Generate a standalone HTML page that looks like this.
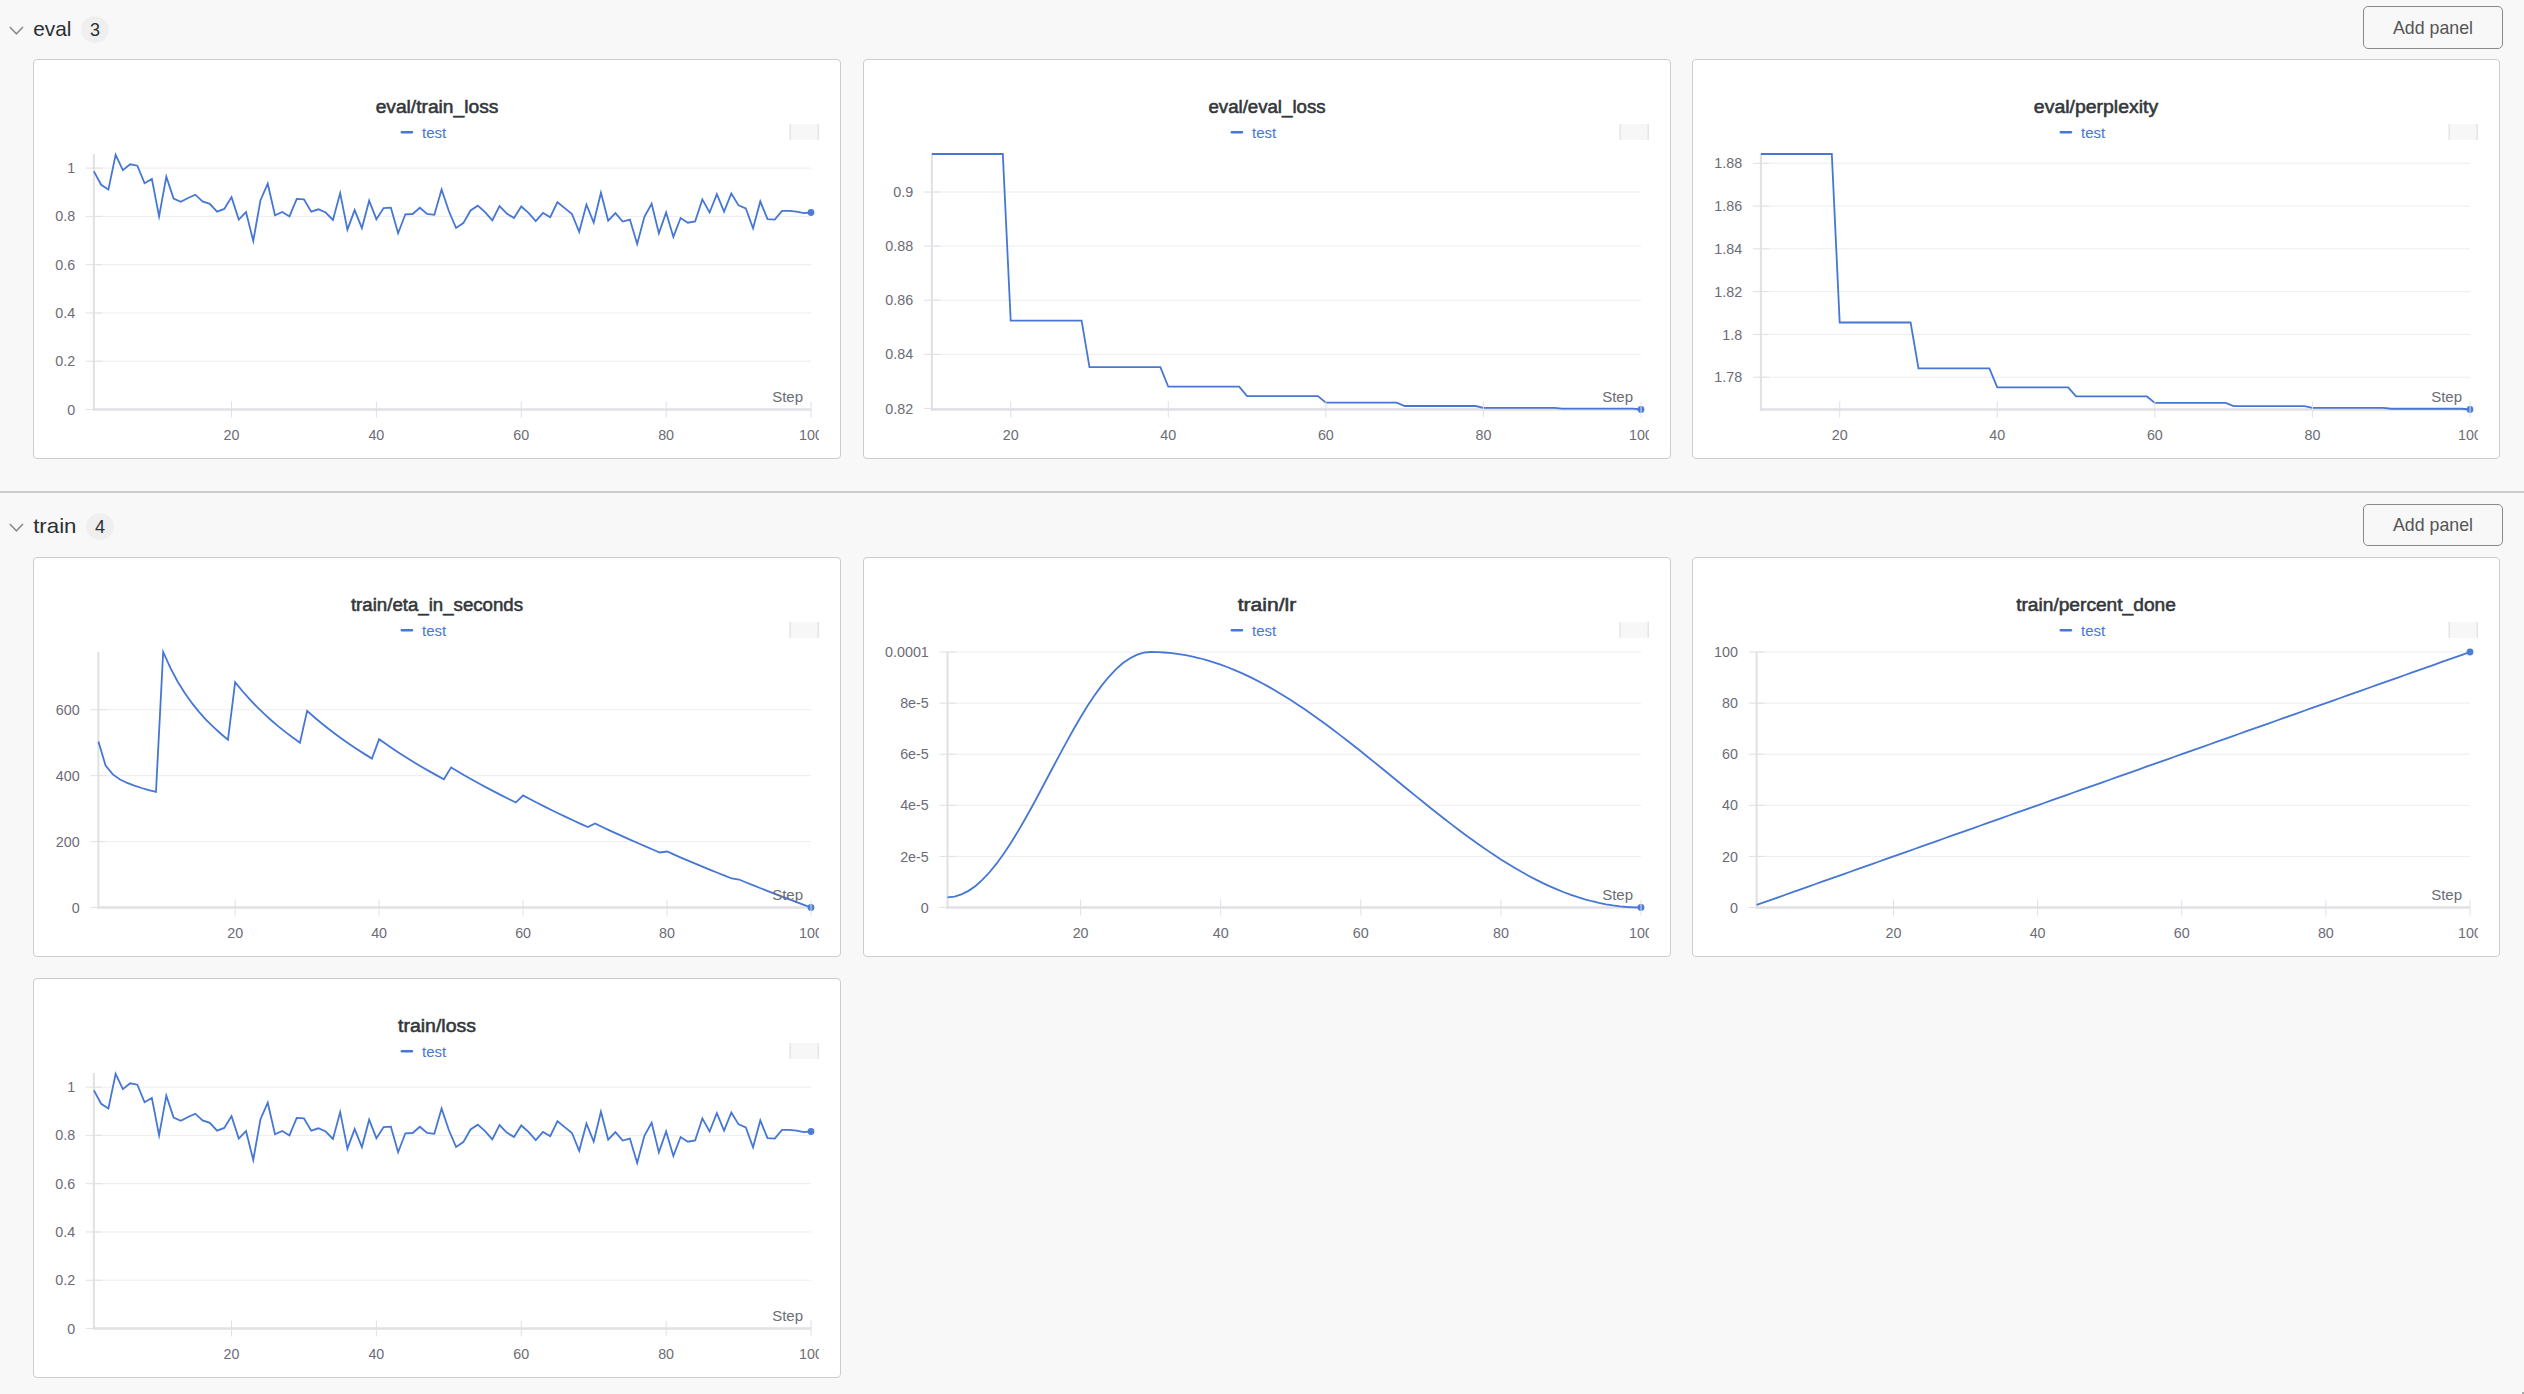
<!DOCTYPE html>
<html><head><meta charset="utf-8"><title>W&amp;B panels</title>
<style>
html,body{margin:0;padding:0}
body{width:2524px;height:1394px;background:#f8f8f8;position:relative;overflow:hidden;font-family:'Liberation Sans', Arial, sans-serif}
.panel{position:absolute;width:808px;height:400px;box-sizing:border-box;border:1px solid #cdcdcd;border-radius:4px;background:#fff}
.panel .clip{position:absolute;left:-1px;top:-1px;width:786px;height:400px;overflow:hidden}
.sname{position:absolute;left:33.5px;height:30px;line-height:30px;font-size:20.5px;color:#2b2f33;letter-spacing:-0.5px;margin-top:15.5px}
.badge{position:absolute;width:28px;height:27px;border-radius:50%;background:#efefef;color:#2b2f33;font-size:17px;line-height:27px;text-align:center}
.btn{position:absolute;left:2363px;width:140px;box-sizing:border-box;border:1px solid #8a8a8a;border-radius:5px}
.sep{position:absolute;left:0;top:491px;width:2524px;height:2px;background:#cbcbcb}
</style></head><body>
<svg style="position:absolute;left:0;top:0px" width="40" height="60"><polyline points="9.8,27 16.4,33.8 23,27" fill="none" stroke="#8c8c8c" stroke-width="1.6"/></svg>
<svg style="position:absolute;left:0;top:0px" width="120" height="50"><text x="33.2" y="35.8" font-family="'Liberation Sans', Arial, sans-serif" font-size="21" fill="#2b2f33" textLength="38.3" lengthAdjust="spacingAndGlyphs">eval</text></svg>
<svg style="position:absolute;left:80px;top:0px" width="30" height="50"><ellipse cx="15" cy="29.6" rx="13.9" ry="13.3" fill="#efefef"/><text x="15" y="36.3" text-anchor="middle" font-family="'Liberation Sans', Arial, sans-serif" font-size="18" fill="#2b2f33">3</text></svg>
<div class="btn" style="top:6px;height:42.5px"></div>
<svg style="position:absolute;left:2363px;top:6px" width="140" height="42.5"><text x="70" y="27.9" text-anchor="middle" font-family="'Liberation Sans', Arial, sans-serif" font-size="19" fill="#555" textLength="80" lengthAdjust="spacingAndGlyphs">Add panel</text></svg>
<svg style="position:absolute;left:0;top:497px" width="40" height="60"><polyline points="9.8,27 16.4,33.8 23,27" fill="none" stroke="#8c8c8c" stroke-width="1.6"/></svg>
<svg style="position:absolute;left:0;top:497px" width="120" height="50"><text x="33.2" y="35.8" font-family="'Liberation Sans', Arial, sans-serif" font-size="21" fill="#2b2f33" textLength="43.3" lengthAdjust="spacingAndGlyphs">train</text></svg>
<svg style="position:absolute;left:85px;top:497px" width="30" height="50"><ellipse cx="15" cy="29.6" rx="13.9" ry="13.3" fill="#efefef"/><text x="15" y="36.3" text-anchor="middle" font-family="'Liberation Sans', Arial, sans-serif" font-size="18" fill="#2b2f33">4</text></svg>
<div class="btn" style="top:504px;height:41.5px"></div>
<svg style="position:absolute;left:2363px;top:504px" width="140" height="41.5"><text x="70" y="26.899999999999977" text-anchor="middle" font-family="'Liberation Sans', Arial, sans-serif" font-size="19" fill="#555" textLength="80" lengthAdjust="spacingAndGlyphs">Add panel</text></svg>
<div class="sep"></div>
<div class="panel" style="left:33px;top:59px"><div class="clip"><svg width="808" height="400" viewBox="0 0 808 400" style="position:absolute;left:0;top:0">
<text x="404" y="53.8" text-anchor="middle" font-family="'Liberation Sans', Arial, sans-serif" font-size="18" fill="#33373b" stroke="#33373b" stroke-width="0.55" textLength="122.7" lengthAdjust="spacingAndGlyphs">eval/train_loss</text>
<rect x="367.6" y="71.9" width="12.6" height="2.5" rx="1.2" fill="#4677d4"/>
<text x="389" y="78.9" font-family="'Liberation Sans', Arial, sans-serif" font-size="15" fill="#4677d4">test</text>
<rect x="756.5" y="65" width="29.5" height="16" fill="#f7f7f7"/>
<rect x="756.5" y="65" width="1.5" height="16" fill="#e6e6e6"/>
<rect x="784.5" y="65" width="1.5" height="16" fill="#e6e6e6"/>
<g>
<line x1="60.90" y1="350.50" x2="778.00" y2="350.50" stroke="#ededf0" stroke-width="1"/>
<line x1="52.90" y1="350.50" x2="68.90" y2="350.50" stroke="#e0e0e5" stroke-width="1"/>
<text x="42.20" y="355.60" text-anchor="end" font-family="'Liberation Sans', Arial, sans-serif" font-size="14.3" fill="#6b6c75">0</text>
<line x1="60.90" y1="302.22" x2="778.00" y2="302.22" stroke="#ededf0" stroke-width="1"/>
<line x1="52.90" y1="302.22" x2="68.90" y2="302.22" stroke="#e0e0e5" stroke-width="1"/>
<text x="42.20" y="307.32" text-anchor="end" font-family="'Liberation Sans', Arial, sans-serif" font-size="14.3" fill="#6b6c75">0.2</text>
<line x1="60.90" y1="253.94" x2="778.00" y2="253.94" stroke="#ededf0" stroke-width="1"/>
<line x1="52.90" y1="253.94" x2="68.90" y2="253.94" stroke="#e0e0e5" stroke-width="1"/>
<text x="42.20" y="259.04" text-anchor="end" font-family="'Liberation Sans', Arial, sans-serif" font-size="14.3" fill="#6b6c75">0.4</text>
<line x1="60.90" y1="205.66" x2="778.00" y2="205.66" stroke="#ededf0" stroke-width="1"/>
<line x1="52.90" y1="205.66" x2="68.90" y2="205.66" stroke="#e0e0e5" stroke-width="1"/>
<text x="42.20" y="210.76" text-anchor="end" font-family="'Liberation Sans', Arial, sans-serif" font-size="14.3" fill="#6b6c75">0.6</text>
<line x1="60.90" y1="157.38" x2="778.00" y2="157.38" stroke="#ededf0" stroke-width="1"/>
<line x1="52.90" y1="157.38" x2="68.90" y2="157.38" stroke="#e0e0e5" stroke-width="1"/>
<text x="42.20" y="162.48" text-anchor="end" font-family="'Liberation Sans', Arial, sans-serif" font-size="14.3" fill="#6b6c75">0.8</text>
<line x1="60.90" y1="109.10" x2="778.00" y2="109.10" stroke="#ededf0" stroke-width="1"/>
<line x1="52.90" y1="109.10" x2="68.90" y2="109.10" stroke="#e0e0e5" stroke-width="1"/>
<text x="42.20" y="114.20" text-anchor="end" font-family="'Liberation Sans', Arial, sans-serif" font-size="14.3" fill="#6b6c75">1</text>
<line x1="60.90" y1="95.00" x2="60.90" y2="351.70" stroke="#e0e0e5" stroke-width="2"/>
<line x1="59.90" y1="350.50" x2="778.00" y2="350.50" stroke="#e0e0e5" stroke-width="2.4"/>
<polyline points="60.90,112.40 68.14,125.80 75.39,130.60 82.63,95.90 89.87,111.20 97.12,105.30 104.36,106.70 111.60,124.30 118.85,119.90 126.09,157.40 133.33,117.60 140.58,139.60 147.82,142.80 155.06,139.00 162.31,135.70 169.55,142.40 176.79,144.80 184.04,152.70 191.28,149.90 198.53,138.10 205.77,160.60 213.01,153.10 220.26,181.90 227.50,141.20 234.74,124.70 241.99,156.20 249.23,152.90 256.47,157.40 263.72,139.90 270.96,140.30 278.20,152.70 285.45,150.30 292.69,153.50 299.93,161.00 307.18,134.10 314.42,170.60 321.66,151.10 328.91,169.10 336.15,141.70 343.39,160.20 350.64,149.10 357.88,148.70 365.12,174.20 372.37,155.30 379.61,155.00 386.85,148.70 394.10,155.00 401.34,155.80 408.58,130.50 415.83,152.00 423.07,169.00 430.32,164.10 437.56,151.50 444.80,146.70 452.05,153.10 459.29,161.30 466.53,147.10 473.78,154.60 481.02,159.00 488.26,147.50 495.51,153.90 502.75,162.10 509.99,153.90 517.24,158.20 524.48,143.20 531.72,149.10 538.97,155.00 546.21,172.80 553.45,145.60 560.70,163.50 567.94,133.70 575.18,161.70 582.43,154.20 589.67,162.50 596.91,160.60 604.16,185.00 611.40,157.80 618.64,144.80 625.89,174.40 633.13,153.50 640.37,177.90 647.62,159.00 654.86,163.70 662.11,162.50 669.35,140.40 676.59,153.50 683.84,135.10 691.08,152.70 698.32,134.50 705.57,146.40 712.81,149.50 720.05,169.20 727.30,142.40 734.54,160.20 741.78,160.60 749.03,151.90 756.27,151.90 763.51,152.70 770.76,154.20 778.00,153.50" fill="none" stroke="#4677d4" stroke-width="1.8" stroke-linejoin="miter" stroke-miterlimit="10"/>
<circle cx="778.00" cy="153.50" r="3.4" fill="#4677d4" fill-opacity="0.95"/>
<line x1="198.53" y1="342.50" x2="198.53" y2="358.50" stroke="#e0e0e5" stroke-width="1"/>
<text x="198.53" y="381.2" text-anchor="middle" font-family="'Liberation Sans', Arial, sans-serif" font-size="14.3" fill="#6b6c75">20</text>
<line x1="343.39" y1="342.50" x2="343.39" y2="358.50" stroke="#e0e0e5" stroke-width="1"/>
<text x="343.39" y="381.2" text-anchor="middle" font-family="'Liberation Sans', Arial, sans-serif" font-size="14.3" fill="#6b6c75">40</text>
<line x1="488.26" y1="342.50" x2="488.26" y2="358.50" stroke="#e0e0e5" stroke-width="1"/>
<text x="488.26" y="381.2" text-anchor="middle" font-family="'Liberation Sans', Arial, sans-serif" font-size="14.3" fill="#6b6c75">60</text>
<line x1="633.13" y1="342.50" x2="633.13" y2="358.50" stroke="#e0e0e5" stroke-width="1"/>
<text x="633.13" y="381.2" text-anchor="middle" font-family="'Liberation Sans', Arial, sans-serif" font-size="14.3" fill="#6b6c75">80</text>
<line x1="778.00" y1="342.50" x2="778.00" y2="358.50" stroke="#e0e0e5" stroke-width="1"/>
<text x="778.00" y="381.2" text-anchor="middle" font-family="'Liberation Sans', Arial, sans-serif" font-size="14.3" fill="#6b6c75">100</text>
<text x="770" y="343" text-anchor="end" font-family="'Liberation Sans', Arial, sans-serif" font-size="15" fill="#6b6c75">Step</text>
</g>
</svg></div></div><div class="panel" style="left:863px;top:59px"><div class="clip"><svg width="808" height="400" viewBox="0 0 808 400" style="position:absolute;left:0;top:0">
<text x="404" y="53.8" text-anchor="middle" font-family="'Liberation Sans', Arial, sans-serif" font-size="18" fill="#33373b" stroke="#33373b" stroke-width="0.55" textLength="117.1" lengthAdjust="spacingAndGlyphs">eval/eval_loss</text>
<rect x="367.6" y="71.9" width="12.6" height="2.5" rx="1.2" fill="#4677d4"/>
<text x="389" y="78.9" font-family="'Liberation Sans', Arial, sans-serif" font-size="15" fill="#4677d4">test</text>
<rect x="756.5" y="65" width="29.5" height="16" fill="#f7f7f7"/>
<rect x="756.5" y="65" width="1.5" height="16" fill="#e6e6e6"/>
<rect x="784.5" y="65" width="1.5" height="16" fill="#e6e6e6"/>
<g>
<line x1="68.90" y1="349.42" x2="778.00" y2="349.42" stroke="#ededf0" stroke-width="1"/>
<line x1="60.90" y1="349.42" x2="76.90" y2="349.42" stroke="#e0e0e5" stroke-width="1"/>
<text x="50.20" y="354.52" text-anchor="end" font-family="'Liberation Sans', Arial, sans-serif" font-size="14.3" fill="#6b6c75">0.82</text>
<line x1="68.90" y1="295.32" x2="778.00" y2="295.32" stroke="#ededf0" stroke-width="1"/>
<line x1="60.90" y1="295.32" x2="76.90" y2="295.32" stroke="#e0e0e5" stroke-width="1"/>
<text x="50.20" y="300.42" text-anchor="end" font-family="'Liberation Sans', Arial, sans-serif" font-size="14.3" fill="#6b6c75">0.84</text>
<line x1="68.90" y1="241.21" x2="778.00" y2="241.21" stroke="#ededf0" stroke-width="1"/>
<line x1="60.90" y1="241.21" x2="76.90" y2="241.21" stroke="#e0e0e5" stroke-width="1"/>
<text x="50.20" y="246.31" text-anchor="end" font-family="'Liberation Sans', Arial, sans-serif" font-size="14.3" fill="#6b6c75">0.86</text>
<line x1="68.90" y1="187.11" x2="778.00" y2="187.11" stroke="#ededf0" stroke-width="1"/>
<line x1="60.90" y1="187.11" x2="76.90" y2="187.11" stroke="#e0e0e5" stroke-width="1"/>
<text x="50.20" y="192.21" text-anchor="end" font-family="'Liberation Sans', Arial, sans-serif" font-size="14.3" fill="#6b6c75">0.88</text>
<line x1="68.90" y1="133.01" x2="778.00" y2="133.01" stroke="#ededf0" stroke-width="1"/>
<line x1="60.90" y1="133.01" x2="76.90" y2="133.01" stroke="#e0e0e5" stroke-width="1"/>
<text x="50.20" y="138.11" text-anchor="end" font-family="'Liberation Sans', Arial, sans-serif" font-size="14.3" fill="#6b6c75">0.9</text>
<line x1="68.90" y1="95.00" x2="68.90" y2="351.70" stroke="#e0e0e5" stroke-width="2"/>
<line x1="67.90" y1="350.50" x2="778.00" y2="350.50" stroke="#e0e0e5" stroke-width="2.4"/>
<polyline points="68.90,95.00 76.78,95.00 84.66,95.00 92.54,95.00 100.42,95.00 108.29,95.00 116.17,95.00 124.05,95.00 131.93,95.00 139.81,95.00 147.69,261.61 155.57,261.61 163.45,261.61 171.33,261.61 179.20,261.61 187.08,261.61 194.96,261.61 202.84,261.61 210.72,261.61 218.60,261.61 226.48,308.22 234.36,308.22 242.24,308.22 250.11,308.22 257.99,308.22 265.87,308.22 273.75,308.22 281.63,308.22 289.51,308.22 297.39,308.22 305.27,327.72 313.15,327.72 321.02,327.72 328.90,327.72 336.78,327.72 344.66,327.72 352.54,327.72 360.42,327.72 368.30,327.72 376.18,327.72 384.06,337.03 391.93,337.03 399.81,337.03 407.69,337.03 415.57,337.03 423.45,337.03 431.33,337.03 439.21,337.03 447.09,337.03 454.97,337.03 462.84,343.63 470.72,343.63 478.60,343.63 486.48,343.63 494.36,343.63 502.24,343.63 510.12,343.63 518.00,343.63 525.88,343.63 533.75,343.63 541.63,347.01 549.51,347.01 557.39,347.01 565.27,347.01 573.15,347.01 581.03,347.01 588.91,347.01 596.79,347.01 604.66,347.01 612.54,347.01 620.42,348.90 628.30,348.90 636.18,348.90 644.06,348.90 651.94,348.90 659.82,348.90 667.70,348.90 675.57,348.90 683.45,348.90 691.33,348.90 699.21,349.72 707.09,349.72 714.97,349.72 722.85,349.72 730.73,349.72 738.61,349.72 746.48,349.72 754.36,349.72 762.24,349.72 770.12,349.72 778.00,350.50" fill="none" stroke="#4677d4" stroke-width="1.8" stroke-linejoin="miter" stroke-miterlimit="10"/>
<circle cx="778.00" cy="350.50" r="3.4" fill="#4677d4" fill-opacity="0.95"/>
<line x1="147.69" y1="342.50" x2="147.69" y2="358.50" stroke="#e0e0e5" stroke-width="1"/>
<text x="147.69" y="381.2" text-anchor="middle" font-family="'Liberation Sans', Arial, sans-serif" font-size="14.3" fill="#6b6c75">20</text>
<line x1="305.27" y1="342.50" x2="305.27" y2="358.50" stroke="#e0e0e5" stroke-width="1"/>
<text x="305.27" y="381.2" text-anchor="middle" font-family="'Liberation Sans', Arial, sans-serif" font-size="14.3" fill="#6b6c75">40</text>
<line x1="462.84" y1="342.50" x2="462.84" y2="358.50" stroke="#e0e0e5" stroke-width="1"/>
<text x="462.84" y="381.2" text-anchor="middle" font-family="'Liberation Sans', Arial, sans-serif" font-size="14.3" fill="#6b6c75">60</text>
<line x1="620.42" y1="342.50" x2="620.42" y2="358.50" stroke="#e0e0e5" stroke-width="1"/>
<text x="620.42" y="381.2" text-anchor="middle" font-family="'Liberation Sans', Arial, sans-serif" font-size="14.3" fill="#6b6c75">80</text>
<line x1="778.00" y1="342.50" x2="778.00" y2="358.50" stroke="#e0e0e5" stroke-width="1"/>
<text x="778.00" y="381.2" text-anchor="middle" font-family="'Liberation Sans', Arial, sans-serif" font-size="14.3" fill="#6b6c75">100</text>
<text x="770" y="343" text-anchor="end" font-family="'Liberation Sans', Arial, sans-serif" font-size="15" fill="#6b6c75">Step</text>
</g>
</svg></div></div><div class="panel" style="left:1692px;top:59px"><div class="clip"><svg width="808" height="400" viewBox="0 0 808 400" style="position:absolute;left:0;top:0">
<text x="404" y="53.8" text-anchor="middle" font-family="'Liberation Sans', Arial, sans-serif" font-size="18" fill="#33373b" stroke="#33373b" stroke-width="0.55" textLength="124.3" lengthAdjust="spacingAndGlyphs">eval/perplexity</text>
<rect x="367.6" y="71.9" width="12.6" height="2.5" rx="1.2" fill="#4677d4"/>
<text x="389" y="78.9" font-family="'Liberation Sans', Arial, sans-serif" font-size="15" fill="#4677d4">test</text>
<rect x="756.5" y="65" width="29.5" height="16" fill="#f7f7f7"/>
<rect x="756.5" y="65" width="1.5" height="16" fill="#e6e6e6"/>
<rect x="784.5" y="65" width="1.5" height="16" fill="#e6e6e6"/>
<g>
<line x1="68.90" y1="318.23" x2="778.00" y2="318.23" stroke="#ededf0" stroke-width="1"/>
<line x1="60.90" y1="318.23" x2="76.90" y2="318.23" stroke="#e0e0e5" stroke-width="1"/>
<text x="50.20" y="323.33" text-anchor="end" font-family="'Liberation Sans', Arial, sans-serif" font-size="14.3" fill="#6b6c75">1.78</text>
<line x1="68.90" y1="275.43" x2="778.00" y2="275.43" stroke="#ededf0" stroke-width="1"/>
<line x1="60.90" y1="275.43" x2="76.90" y2="275.43" stroke="#e0e0e5" stroke-width="1"/>
<text x="50.20" y="280.53" text-anchor="end" font-family="'Liberation Sans', Arial, sans-serif" font-size="14.3" fill="#6b6c75">1.8</text>
<line x1="68.90" y1="232.64" x2="778.00" y2="232.64" stroke="#ededf0" stroke-width="1"/>
<line x1="60.90" y1="232.64" x2="76.90" y2="232.64" stroke="#e0e0e5" stroke-width="1"/>
<text x="50.20" y="237.74" text-anchor="end" font-family="'Liberation Sans', Arial, sans-serif" font-size="14.3" fill="#6b6c75">1.82</text>
<line x1="68.90" y1="189.85" x2="778.00" y2="189.85" stroke="#ededf0" stroke-width="1"/>
<line x1="60.90" y1="189.85" x2="76.90" y2="189.85" stroke="#e0e0e5" stroke-width="1"/>
<text x="50.20" y="194.95" text-anchor="end" font-family="'Liberation Sans', Arial, sans-serif" font-size="14.3" fill="#6b6c75">1.84</text>
<line x1="68.90" y1="147.05" x2="778.00" y2="147.05" stroke="#ededf0" stroke-width="1"/>
<line x1="60.90" y1="147.05" x2="76.90" y2="147.05" stroke="#e0e0e5" stroke-width="1"/>
<text x="50.20" y="152.15" text-anchor="end" font-family="'Liberation Sans', Arial, sans-serif" font-size="14.3" fill="#6b6c75">1.86</text>
<line x1="68.90" y1="104.26" x2="778.00" y2="104.26" stroke="#ededf0" stroke-width="1"/>
<line x1="60.90" y1="104.26" x2="76.90" y2="104.26" stroke="#e0e0e5" stroke-width="1"/>
<text x="50.20" y="109.36" text-anchor="end" font-family="'Liberation Sans', Arial, sans-serif" font-size="14.3" fill="#6b6c75">1.88</text>
<line x1="68.90" y1="95.00" x2="68.90" y2="351.70" stroke="#e0e0e5" stroke-width="2"/>
<line x1="67.90" y1="350.50" x2="778.00" y2="350.50" stroke="#e0e0e5" stroke-width="2.4"/>
<polyline points="68.90,95.00 76.78,95.00 84.66,95.00 92.54,95.00 100.42,95.00 108.29,95.00 116.17,95.00 124.05,95.00 131.93,95.00 139.81,95.00 147.69,263.50 155.57,263.50 163.45,263.50 171.33,263.50 179.20,263.50 187.08,263.50 194.96,263.50 202.84,263.50 210.72,263.50 218.60,263.50 226.48,309.37 234.36,309.37 242.24,309.37 250.11,309.37 257.99,309.37 265.87,309.37 273.75,309.37 281.63,309.37 289.51,309.37 297.39,309.37 305.27,328.40 313.15,328.40 321.02,328.40 328.90,328.40 336.78,328.40 344.66,328.40 352.54,328.40 360.42,328.40 368.30,328.40 376.18,328.40 384.06,337.44 391.93,337.44 399.81,337.44 407.69,337.44 415.57,337.44 423.45,337.44 431.33,337.44 439.21,337.44 447.09,337.44 454.97,337.44 462.84,343.85 470.72,343.85 478.60,343.85 486.48,343.85 494.36,343.85 502.24,343.85 510.12,343.85 518.00,343.85 525.88,343.85 533.75,343.85 541.63,347.12 549.51,347.12 557.39,347.12 565.27,347.12 573.15,347.12 581.03,347.12 588.91,347.12 596.79,347.12 604.66,347.12 612.54,347.12 620.42,348.96 628.30,348.96 636.18,348.96 644.06,348.96 651.94,348.96 659.82,348.96 667.70,348.96 675.57,348.96 683.45,348.96 691.33,348.96 699.21,349.74 707.09,349.74 714.97,349.74 722.85,349.74 730.73,349.74 738.61,349.74 746.48,349.74 754.36,349.74 762.24,349.74 770.12,349.74 778.00,350.50" fill="none" stroke="#4677d4" stroke-width="1.8" stroke-linejoin="miter" stroke-miterlimit="10"/>
<circle cx="778.00" cy="350.50" r="3.4" fill="#4677d4" fill-opacity="0.95"/>
<line x1="147.69" y1="342.50" x2="147.69" y2="358.50" stroke="#e0e0e5" stroke-width="1"/>
<text x="147.69" y="381.2" text-anchor="middle" font-family="'Liberation Sans', Arial, sans-serif" font-size="14.3" fill="#6b6c75">20</text>
<line x1="305.27" y1="342.50" x2="305.27" y2="358.50" stroke="#e0e0e5" stroke-width="1"/>
<text x="305.27" y="381.2" text-anchor="middle" font-family="'Liberation Sans', Arial, sans-serif" font-size="14.3" fill="#6b6c75">40</text>
<line x1="462.84" y1="342.50" x2="462.84" y2="358.50" stroke="#e0e0e5" stroke-width="1"/>
<text x="462.84" y="381.2" text-anchor="middle" font-family="'Liberation Sans', Arial, sans-serif" font-size="14.3" fill="#6b6c75">60</text>
<line x1="620.42" y1="342.50" x2="620.42" y2="358.50" stroke="#e0e0e5" stroke-width="1"/>
<text x="620.42" y="381.2" text-anchor="middle" font-family="'Liberation Sans', Arial, sans-serif" font-size="14.3" fill="#6b6c75">80</text>
<line x1="778.00" y1="342.50" x2="778.00" y2="358.50" stroke="#e0e0e5" stroke-width="1"/>
<text x="778.00" y="381.2" text-anchor="middle" font-family="'Liberation Sans', Arial, sans-serif" font-size="14.3" fill="#6b6c75">100</text>
<text x="770" y="343" text-anchor="end" font-family="'Liberation Sans', Arial, sans-serif" font-size="15" fill="#6b6c75">Step</text>
</g>
</svg></div></div><div class="panel" style="left:33px;top:557px"><div class="clip"><svg width="808" height="400" viewBox="0 0 808 400" style="position:absolute;left:0;top:0">
<text x="404" y="53.8" text-anchor="middle" font-family="'Liberation Sans', Arial, sans-serif" font-size="18" fill="#33373b" stroke="#33373b" stroke-width="0.55" textLength="172.1" lengthAdjust="spacingAndGlyphs">train/eta_in_seconds</text>
<rect x="367.6" y="71.9" width="12.6" height="2.5" rx="1.2" fill="#4677d4"/>
<text x="389" y="78.9" font-family="'Liberation Sans', Arial, sans-serif" font-size="15" fill="#4677d4">test</text>
<rect x="756.5" y="65" width="29.5" height="16" fill="#f7f7f7"/>
<rect x="756.5" y="65" width="1.5" height="16" fill="#e6e6e6"/>
<rect x="784.5" y="65" width="1.5" height="16" fill="#e6e6e6"/>
<g>
<line x1="65.40" y1="350.50" x2="778.00" y2="350.50" stroke="#ededf0" stroke-width="1"/>
<line x1="57.40" y1="350.50" x2="73.40" y2="350.50" stroke="#e0e0e5" stroke-width="1"/>
<text x="46.70" y="355.60" text-anchor="end" font-family="'Liberation Sans', Arial, sans-serif" font-size="14.3" fill="#6b6c75">0</text>
<line x1="65.40" y1="284.59" x2="778.00" y2="284.59" stroke="#ededf0" stroke-width="1"/>
<line x1="57.40" y1="284.59" x2="73.40" y2="284.59" stroke="#e0e0e5" stroke-width="1"/>
<text x="46.70" y="289.69" text-anchor="end" font-family="'Liberation Sans', Arial, sans-serif" font-size="14.3" fill="#6b6c75">200</text>
<line x1="65.40" y1="218.67" x2="778.00" y2="218.67" stroke="#ededf0" stroke-width="1"/>
<line x1="57.40" y1="218.67" x2="73.40" y2="218.67" stroke="#e0e0e5" stroke-width="1"/>
<text x="46.70" y="223.77" text-anchor="end" font-family="'Liberation Sans', Arial, sans-serif" font-size="14.3" fill="#6b6c75">400</text>
<line x1="65.40" y1="152.76" x2="778.00" y2="152.76" stroke="#ededf0" stroke-width="1"/>
<line x1="57.40" y1="152.76" x2="73.40" y2="152.76" stroke="#e0e0e5" stroke-width="1"/>
<text x="46.70" y="157.86" text-anchor="end" font-family="'Liberation Sans', Arial, sans-serif" font-size="14.3" fill="#6b6c75">600</text>
<line x1="65.40" y1="95.00" x2="65.40" y2="351.70" stroke="#e0e0e5" stroke-width="2"/>
<line x1="64.40" y1="350.50" x2="778.00" y2="350.50" stroke="#e0e0e5" stroke-width="2.4"/>
<polyline points="65.40,184.43 72.60,208.55 79.80,217.41 86.99,222.44 94.19,225.95 101.39,228.70 108.59,231.01 115.79,233.05 122.98,234.90 130.18,95.00 137.38,110.94 144.58,124.43 151.78,136.03 158.97,146.15 166.17,155.08 173.37,163.05 180.57,170.22 187.77,176.73 194.96,182.69 202.16,125.22 209.36,134.04 216.56,142.17 223.76,149.70 230.95,156.71 238.15,163.25 245.35,169.38 252.55,175.15 259.75,180.59 266.94,185.75 274.14,153.92 281.34,160.26 288.54,166.29 295.74,172.02 302.93,177.49 310.13,182.71 317.33,187.71 324.53,192.51 331.73,197.12 338.92,201.56 346.12,182.23 353.32,187.31 360.52,192.22 367.72,196.95 374.91,201.52 382.11,205.94 389.31,210.22 396.51,214.37 403.71,218.40 410.90,222.32 418.10,210.39 425.30,214.71 432.50,218.91 439.69,223.01 446.89,226.99 454.09,230.87 461.29,234.66 468.49,238.36 475.68,241.98 482.88,245.51 490.08,238.47 497.28,242.28 504.48,246.01 511.67,249.66 518.87,253.23 526.07,256.73 533.27,260.16 540.47,263.53 547.66,266.83 554.86,270.07 562.06,266.51 569.26,269.96 576.46,273.34 583.65,276.66 590.85,279.93 598.05,283.14 605.25,286.30 612.45,289.41 619.64,292.47 626.84,295.49 634.04,294.52 641.24,297.69 648.44,300.81 655.63,303.89 662.83,306.92 670.03,309.91 677.23,312.86 684.43,315.77 691.62,318.64 698.82,321.47 706.02,322.52 713.22,325.47 720.42,328.39 727.61,331.27 734.81,334.11 742.01,336.92 749.21,339.70 756.41,342.45 763.60,345.16 770.80,347.85 778.00,350.50" fill="none" stroke="#4677d4" stroke-width="1.8" stroke-linejoin="miter" stroke-miterlimit="10"/>
<circle cx="778.00" cy="350.50" r="3.4" fill="#4677d4" fill-opacity="0.95"/>
<line x1="202.16" y1="342.50" x2="202.16" y2="358.50" stroke="#e0e0e5" stroke-width="1"/>
<text x="202.16" y="381.2" text-anchor="middle" font-family="'Liberation Sans', Arial, sans-serif" font-size="14.3" fill="#6b6c75">20</text>
<line x1="346.12" y1="342.50" x2="346.12" y2="358.50" stroke="#e0e0e5" stroke-width="1"/>
<text x="346.12" y="381.2" text-anchor="middle" font-family="'Liberation Sans', Arial, sans-serif" font-size="14.3" fill="#6b6c75">40</text>
<line x1="490.08" y1="342.50" x2="490.08" y2="358.50" stroke="#e0e0e5" stroke-width="1"/>
<text x="490.08" y="381.2" text-anchor="middle" font-family="'Liberation Sans', Arial, sans-serif" font-size="14.3" fill="#6b6c75">60</text>
<line x1="634.04" y1="342.50" x2="634.04" y2="358.50" stroke="#e0e0e5" stroke-width="1"/>
<text x="634.04" y="381.2" text-anchor="middle" font-family="'Liberation Sans', Arial, sans-serif" font-size="14.3" fill="#6b6c75">80</text>
<line x1="778.00" y1="342.50" x2="778.00" y2="358.50" stroke="#e0e0e5" stroke-width="1"/>
<text x="778.00" y="381.2" text-anchor="middle" font-family="'Liberation Sans', Arial, sans-serif" font-size="14.3" fill="#6b6c75">100</text>
<text x="770" y="343" text-anchor="end" font-family="'Liberation Sans', Arial, sans-serif" font-size="15" fill="#6b6c75">Step</text>
</g>
</svg></div></div><div class="panel" style="left:863px;top:557px"><div class="clip"><svg width="808" height="400" viewBox="0 0 808 400" style="position:absolute;left:0;top:0">
<text x="404" y="53.8" text-anchor="middle" font-family="'Liberation Sans', Arial, sans-serif" font-size="18" fill="#33373b" stroke="#33373b" stroke-width="0.55" textLength="58.5" lengthAdjust="spacingAndGlyphs">train/lr</text>
<rect x="367.6" y="71.9" width="12.6" height="2.5" rx="1.2" fill="#4677d4"/>
<text x="389" y="78.9" font-family="'Liberation Sans', Arial, sans-serif" font-size="15" fill="#4677d4">test</text>
<rect x="756.5" y="65" width="29.5" height="16" fill="#f7f7f7"/>
<rect x="756.5" y="65" width="1.5" height="16" fill="#e6e6e6"/>
<rect x="784.5" y="65" width="1.5" height="16" fill="#e6e6e6"/>
<g>
<line x1="84.50" y1="350.50" x2="778.00" y2="350.50" stroke="#ededf0" stroke-width="1"/>
<line x1="76.50" y1="350.50" x2="92.50" y2="350.50" stroke="#e0e0e5" stroke-width="1"/>
<text x="65.80" y="355.60" text-anchor="end" font-family="'Liberation Sans', Arial, sans-serif" font-size="14.3" fill="#6b6c75">0</text>
<line x1="84.50" y1="299.40" x2="778.00" y2="299.40" stroke="#ededf0" stroke-width="1"/>
<line x1="76.50" y1="299.40" x2="92.50" y2="299.40" stroke="#e0e0e5" stroke-width="1"/>
<text x="65.80" y="304.50" text-anchor="end" font-family="'Liberation Sans', Arial, sans-serif" font-size="14.3" fill="#6b6c75">2e-5</text>
<line x1="84.50" y1="248.30" x2="778.00" y2="248.30" stroke="#ededf0" stroke-width="1"/>
<line x1="76.50" y1="248.30" x2="92.50" y2="248.30" stroke="#e0e0e5" stroke-width="1"/>
<text x="65.80" y="253.40" text-anchor="end" font-family="'Liberation Sans', Arial, sans-serif" font-size="14.3" fill="#6b6c75">4e-5</text>
<line x1="84.50" y1="197.20" x2="778.00" y2="197.20" stroke="#ededf0" stroke-width="1"/>
<line x1="76.50" y1="197.20" x2="92.50" y2="197.20" stroke="#e0e0e5" stroke-width="1"/>
<text x="65.80" y="202.30" text-anchor="end" font-family="'Liberation Sans', Arial, sans-serif" font-size="14.3" fill="#6b6c75">6e-5</text>
<line x1="84.50" y1="146.10" x2="778.00" y2="146.10" stroke="#ededf0" stroke-width="1"/>
<line x1="76.50" y1="146.10" x2="92.50" y2="146.10" stroke="#e0e0e5" stroke-width="1"/>
<text x="65.80" y="151.20" text-anchor="end" font-family="'Liberation Sans', Arial, sans-serif" font-size="14.3" fill="#6b6c75">8e-5</text>
<line x1="84.50" y1="95.00" x2="778.00" y2="95.00" stroke="#ededf0" stroke-width="1"/>
<line x1="76.50" y1="95.00" x2="92.50" y2="95.00" stroke="#e0e0e5" stroke-width="1"/>
<text x="65.80" y="100.10" text-anchor="end" font-family="'Liberation Sans', Arial, sans-serif" font-size="14.3" fill="#6b6c75">0.0001</text>
<line x1="84.50" y1="95.00" x2="84.50" y2="351.70" stroke="#e0e0e5" stroke-width="2"/>
<line x1="83.50" y1="350.50" x2="778.00" y2="350.50" stroke="#e0e0e5" stroke-width="2.4"/>
<polyline points="84.50,340.28 91.51,339.56 98.51,337.41 105.52,333.86 112.52,328.95 119.53,322.72 126.53,315.27 133.54,306.68 140.54,297.04 147.55,286.46 154.55,275.09 161.56,263.03 168.56,250.45 175.57,237.48 182.57,224.28 189.58,211.00 196.58,197.80 203.59,184.83 210.59,172.25 217.60,160.19 224.60,148.82 231.61,138.24 238.61,128.60 245.62,120.01 252.62,112.56 259.63,106.33 266.63,101.42 273.64,97.87 280.64,95.72 287.65,95.00 294.65,95.13 301.66,95.51 308.66,96.16 315.67,97.05 322.67,98.20 329.68,99.60 336.68,101.25 343.69,103.15 350.69,105.28 357.70,107.65 364.70,110.25 371.71,113.08 378.71,116.13 385.72,119.40 392.72,122.87 399.73,126.55 406.73,130.41 413.74,134.47 420.74,138.70 427.75,143.10 434.75,147.66 441.76,152.37 448.76,157.23 455.77,162.21 462.77,167.32 469.78,172.54 476.78,177.86 483.79,183.27 490.79,188.76 497.80,194.32 504.80,199.94 511.81,205.60 518.81,211.30 525.82,217.02 532.82,222.75 539.83,228.48 546.83,234.20 553.84,239.90 560.84,245.56 567.85,251.18 574.85,256.74 581.86,262.23 588.86,267.64 595.87,272.96 602.87,278.18 609.88,283.29 616.88,288.27 623.89,293.13 630.89,297.84 637.90,302.40 644.90,306.80 651.91,311.03 658.91,315.09 665.92,318.95 672.92,322.63 679.93,326.10 686.93,329.37 693.94,332.42 700.94,335.25 707.95,337.85 714.95,340.22 721.96,342.35 728.96,344.25 735.97,345.90 742.97,347.30 749.98,348.45 756.98,349.34 763.99,349.99 770.99,350.37 778.00,350.50" fill="none" stroke="#4677d4" stroke-width="1.8" stroke-linejoin="miter" stroke-miterlimit="10"/>
<circle cx="778.00" cy="350.50" r="3.4" fill="#4677d4" fill-opacity="0.95"/>
<line x1="217.60" y1="342.50" x2="217.60" y2="358.50" stroke="#e0e0e5" stroke-width="1"/>
<text x="217.60" y="381.2" text-anchor="middle" font-family="'Liberation Sans', Arial, sans-serif" font-size="14.3" fill="#6b6c75">20</text>
<line x1="357.70" y1="342.50" x2="357.70" y2="358.50" stroke="#e0e0e5" stroke-width="1"/>
<text x="357.70" y="381.2" text-anchor="middle" font-family="'Liberation Sans', Arial, sans-serif" font-size="14.3" fill="#6b6c75">40</text>
<line x1="497.80" y1="342.50" x2="497.80" y2="358.50" stroke="#e0e0e5" stroke-width="1"/>
<text x="497.80" y="381.2" text-anchor="middle" font-family="'Liberation Sans', Arial, sans-serif" font-size="14.3" fill="#6b6c75">60</text>
<line x1="637.90" y1="342.50" x2="637.90" y2="358.50" stroke="#e0e0e5" stroke-width="1"/>
<text x="637.90" y="381.2" text-anchor="middle" font-family="'Liberation Sans', Arial, sans-serif" font-size="14.3" fill="#6b6c75">80</text>
<line x1="778.00" y1="342.50" x2="778.00" y2="358.50" stroke="#e0e0e5" stroke-width="1"/>
<text x="778.00" y="381.2" text-anchor="middle" font-family="'Liberation Sans', Arial, sans-serif" font-size="14.3" fill="#6b6c75">100</text>
<text x="770" y="343" text-anchor="end" font-family="'Liberation Sans', Arial, sans-serif" font-size="15" fill="#6b6c75">Step</text>
</g>
</svg></div></div><div class="panel" style="left:1692px;top:557px"><div class="clip"><svg width="808" height="400" viewBox="0 0 808 400" style="position:absolute;left:0;top:0">
<text x="404" y="53.8" text-anchor="middle" font-family="'Liberation Sans', Arial, sans-serif" font-size="18" fill="#33373b" stroke="#33373b" stroke-width="0.55" textLength="159.7" lengthAdjust="spacingAndGlyphs">train/percent_done</text>
<rect x="367.6" y="71.9" width="12.6" height="2.5" rx="1.2" fill="#4677d4"/>
<text x="389" y="78.9" font-family="'Liberation Sans', Arial, sans-serif" font-size="15" fill="#4677d4">test</text>
<rect x="756.5" y="65" width="29.5" height="16" fill="#f7f7f7"/>
<rect x="756.5" y="65" width="1.5" height="16" fill="#e6e6e6"/>
<rect x="784.5" y="65" width="1.5" height="16" fill="#e6e6e6"/>
<g>
<line x1="64.60" y1="350.50" x2="778.00" y2="350.50" stroke="#ededf0" stroke-width="1"/>
<line x1="56.60" y1="350.50" x2="72.60" y2="350.50" stroke="#e0e0e5" stroke-width="1"/>
<text x="45.90" y="355.60" text-anchor="end" font-family="'Liberation Sans', Arial, sans-serif" font-size="14.3" fill="#6b6c75">0</text>
<line x1="64.60" y1="299.40" x2="778.00" y2="299.40" stroke="#ededf0" stroke-width="1"/>
<line x1="56.60" y1="299.40" x2="72.60" y2="299.40" stroke="#e0e0e5" stroke-width="1"/>
<text x="45.90" y="304.50" text-anchor="end" font-family="'Liberation Sans', Arial, sans-serif" font-size="14.3" fill="#6b6c75">20</text>
<line x1="64.60" y1="248.30" x2="778.00" y2="248.30" stroke="#ededf0" stroke-width="1"/>
<line x1="56.60" y1="248.30" x2="72.60" y2="248.30" stroke="#e0e0e5" stroke-width="1"/>
<text x="45.90" y="253.40" text-anchor="end" font-family="'Liberation Sans', Arial, sans-serif" font-size="14.3" fill="#6b6c75">40</text>
<line x1="64.60" y1="197.20" x2="778.00" y2="197.20" stroke="#ededf0" stroke-width="1"/>
<line x1="56.60" y1="197.20" x2="72.60" y2="197.20" stroke="#e0e0e5" stroke-width="1"/>
<text x="45.90" y="202.30" text-anchor="end" font-family="'Liberation Sans', Arial, sans-serif" font-size="14.3" fill="#6b6c75">60</text>
<line x1="64.60" y1="146.10" x2="778.00" y2="146.10" stroke="#ededf0" stroke-width="1"/>
<line x1="56.60" y1="146.10" x2="72.60" y2="146.10" stroke="#e0e0e5" stroke-width="1"/>
<text x="45.90" y="151.20" text-anchor="end" font-family="'Liberation Sans', Arial, sans-serif" font-size="14.3" fill="#6b6c75">80</text>
<line x1="64.60" y1="95.00" x2="778.00" y2="95.00" stroke="#ededf0" stroke-width="1"/>
<line x1="56.60" y1="95.00" x2="72.60" y2="95.00" stroke="#e0e0e5" stroke-width="1"/>
<text x="45.90" y="100.10" text-anchor="end" font-family="'Liberation Sans', Arial, sans-serif" font-size="14.3" fill="#6b6c75">100</text>
<line x1="64.60" y1="95.00" x2="64.60" y2="351.70" stroke="#e0e0e5" stroke-width="2"/>
<line x1="63.60" y1="350.50" x2="778.00" y2="350.50" stroke="#e0e0e5" stroke-width="2.4"/>
<polyline points="64.60,347.94 71.81,345.39 79.01,342.83 86.22,340.28 93.42,337.73 100.63,335.17 107.84,332.62 115.04,330.06 122.25,327.50 129.45,324.95 136.66,322.39 143.87,319.84 151.07,317.28 158.28,314.73 165.48,312.18 172.69,309.62 179.90,307.06 187.10,304.51 194.31,301.95 201.52,299.40 208.72,296.85 215.93,294.29 223.13,291.74 230.34,289.18 237.55,286.62 244.75,284.07 251.96,281.51 259.16,278.96 266.37,276.40 273.58,273.85 280.78,271.30 287.99,268.74 295.19,266.19 302.40,263.63 309.61,261.07 316.81,258.52 324.02,255.97 331.22,253.41 338.43,250.85 345.64,248.30 352.84,245.75 360.05,243.19 367.25,240.63 374.46,238.08 381.67,235.52 388.87,232.97 396.08,230.42 403.28,227.86 410.49,225.31 417.70,222.75 424.90,220.19 432.11,217.64 439.32,215.08 446.52,212.53 453.73,209.97 460.93,207.42 468.14,204.87 475.35,202.31 482.55,199.75 489.76,197.20 496.96,194.65 504.17,192.09 511.38,189.53 518.58,186.98 525.79,184.42 532.99,181.87 540.20,179.31 547.41,176.76 554.61,174.21 561.82,171.65 569.02,169.09 576.23,166.54 583.44,163.99 590.64,161.43 597.85,158.88 605.05,156.32 612.26,153.76 619.47,151.21 626.67,148.66 633.88,146.10 641.08,143.54 648.29,140.99 655.50,138.44 662.70,135.88 669.91,133.33 677.12,130.77 684.32,128.22 691.53,125.66 698.73,123.10 705.94,120.55 713.15,118.00 720.35,115.44 727.56,112.88 734.76,110.33 741.97,107.78 749.18,105.22 756.38,102.67 763.59,100.11 770.79,97.56 778.00,95.00" fill="none" stroke="#4677d4" stroke-width="1.8" stroke-linejoin="miter" stroke-miterlimit="10"/>
<circle cx="778.00" cy="95.00" r="3.4" fill="#4677d4" fill-opacity="0.95"/>
<line x1="201.52" y1="342.50" x2="201.52" y2="358.50" stroke="#e0e0e5" stroke-width="1"/>
<text x="201.52" y="381.2" text-anchor="middle" font-family="'Liberation Sans', Arial, sans-serif" font-size="14.3" fill="#6b6c75">20</text>
<line x1="345.64" y1="342.50" x2="345.64" y2="358.50" stroke="#e0e0e5" stroke-width="1"/>
<text x="345.64" y="381.2" text-anchor="middle" font-family="'Liberation Sans', Arial, sans-serif" font-size="14.3" fill="#6b6c75">40</text>
<line x1="489.76" y1="342.50" x2="489.76" y2="358.50" stroke="#e0e0e5" stroke-width="1"/>
<text x="489.76" y="381.2" text-anchor="middle" font-family="'Liberation Sans', Arial, sans-serif" font-size="14.3" fill="#6b6c75">60</text>
<line x1="633.88" y1="342.50" x2="633.88" y2="358.50" stroke="#e0e0e5" stroke-width="1"/>
<text x="633.88" y="381.2" text-anchor="middle" font-family="'Liberation Sans', Arial, sans-serif" font-size="14.3" fill="#6b6c75">80</text>
<line x1="778.00" y1="342.50" x2="778.00" y2="358.50" stroke="#e0e0e5" stroke-width="1"/>
<text x="778.00" y="381.2" text-anchor="middle" font-family="'Liberation Sans', Arial, sans-serif" font-size="14.3" fill="#6b6c75">100</text>
<text x="770" y="343" text-anchor="end" font-family="'Liberation Sans', Arial, sans-serif" font-size="15" fill="#6b6c75">Step</text>
</g>
</svg></div></div><div class="panel" style="left:33px;top:978px"><div class="clip"><svg width="808" height="400" viewBox="0 0 808 400" style="position:absolute;left:0;top:0">
<text x="404" y="53.8" text-anchor="middle" font-family="'Liberation Sans', Arial, sans-serif" font-size="18" fill="#33373b" stroke="#33373b" stroke-width="0.55" textLength="77.9" lengthAdjust="spacingAndGlyphs">train/loss</text>
<rect x="367.6" y="71.9" width="12.6" height="2.5" rx="1.2" fill="#4677d4"/>
<text x="389" y="78.9" font-family="'Liberation Sans', Arial, sans-serif" font-size="15" fill="#4677d4">test</text>
<rect x="756.5" y="65" width="29.5" height="16" fill="#f7f7f7"/>
<rect x="756.5" y="65" width="1.5" height="16" fill="#e6e6e6"/>
<rect x="784.5" y="65" width="1.5" height="16" fill="#e6e6e6"/>
<g>
<line x1="60.90" y1="350.50" x2="778.00" y2="350.50" stroke="#ededf0" stroke-width="1"/>
<line x1="52.90" y1="350.50" x2="68.90" y2="350.50" stroke="#e0e0e5" stroke-width="1"/>
<text x="42.20" y="355.60" text-anchor="end" font-family="'Liberation Sans', Arial, sans-serif" font-size="14.3" fill="#6b6c75">0</text>
<line x1="60.90" y1="302.22" x2="778.00" y2="302.22" stroke="#ededf0" stroke-width="1"/>
<line x1="52.90" y1="302.22" x2="68.90" y2="302.22" stroke="#e0e0e5" stroke-width="1"/>
<text x="42.20" y="307.32" text-anchor="end" font-family="'Liberation Sans', Arial, sans-serif" font-size="14.3" fill="#6b6c75">0.2</text>
<line x1="60.90" y1="253.94" x2="778.00" y2="253.94" stroke="#ededf0" stroke-width="1"/>
<line x1="52.90" y1="253.94" x2="68.90" y2="253.94" stroke="#e0e0e5" stroke-width="1"/>
<text x="42.20" y="259.04" text-anchor="end" font-family="'Liberation Sans', Arial, sans-serif" font-size="14.3" fill="#6b6c75">0.4</text>
<line x1="60.90" y1="205.66" x2="778.00" y2="205.66" stroke="#ededf0" stroke-width="1"/>
<line x1="52.90" y1="205.66" x2="68.90" y2="205.66" stroke="#e0e0e5" stroke-width="1"/>
<text x="42.20" y="210.76" text-anchor="end" font-family="'Liberation Sans', Arial, sans-serif" font-size="14.3" fill="#6b6c75">0.6</text>
<line x1="60.90" y1="157.38" x2="778.00" y2="157.38" stroke="#ededf0" stroke-width="1"/>
<line x1="52.90" y1="157.38" x2="68.90" y2="157.38" stroke="#e0e0e5" stroke-width="1"/>
<text x="42.20" y="162.48" text-anchor="end" font-family="'Liberation Sans', Arial, sans-serif" font-size="14.3" fill="#6b6c75">0.8</text>
<line x1="60.90" y1="109.10" x2="778.00" y2="109.10" stroke="#ededf0" stroke-width="1"/>
<line x1="52.90" y1="109.10" x2="68.90" y2="109.10" stroke="#e0e0e5" stroke-width="1"/>
<text x="42.20" y="114.20" text-anchor="end" font-family="'Liberation Sans', Arial, sans-serif" font-size="14.3" fill="#6b6c75">1</text>
<line x1="60.90" y1="95.00" x2="60.90" y2="351.70" stroke="#e0e0e5" stroke-width="2"/>
<line x1="59.90" y1="350.50" x2="778.00" y2="350.50" stroke="#e0e0e5" stroke-width="2.4"/>
<polyline points="60.90,112.40 68.14,125.80 75.39,130.60 82.63,95.90 89.87,111.20 97.12,105.30 104.36,106.70 111.60,124.30 118.85,119.90 126.09,157.40 133.33,117.60 140.58,139.60 147.82,142.80 155.06,139.00 162.31,135.70 169.55,142.40 176.79,144.80 184.04,152.70 191.28,149.90 198.53,138.10 205.77,160.60 213.01,153.10 220.26,181.90 227.50,141.20 234.74,124.70 241.99,156.20 249.23,152.90 256.47,157.40 263.72,139.90 270.96,140.30 278.20,152.70 285.45,150.30 292.69,153.50 299.93,161.00 307.18,134.10 314.42,170.60 321.66,151.10 328.91,169.10 336.15,141.70 343.39,160.20 350.64,149.10 357.88,148.70 365.12,174.20 372.37,155.30 379.61,155.00 386.85,148.70 394.10,155.00 401.34,155.80 408.58,130.50 415.83,152.00 423.07,169.00 430.32,164.10 437.56,151.50 444.80,146.70 452.05,153.10 459.29,161.30 466.53,147.10 473.78,154.60 481.02,159.00 488.26,147.50 495.51,153.90 502.75,162.10 509.99,153.90 517.24,158.20 524.48,143.20 531.72,149.10 538.97,155.00 546.21,172.80 553.45,145.60 560.70,163.50 567.94,133.70 575.18,161.70 582.43,154.20 589.67,162.50 596.91,160.60 604.16,185.00 611.40,157.80 618.64,144.80 625.89,174.40 633.13,153.50 640.37,177.90 647.62,159.00 654.86,163.70 662.11,162.50 669.35,140.40 676.59,153.50 683.84,135.10 691.08,152.70 698.32,134.50 705.57,146.40 712.81,149.50 720.05,169.20 727.30,142.40 734.54,160.20 741.78,160.60 749.03,151.90 756.27,151.90 763.51,152.70 770.76,154.20 778.00,153.50" fill="none" stroke="#4677d4" stroke-width="1.8" stroke-linejoin="miter" stroke-miterlimit="10"/>
<circle cx="778.00" cy="153.50" r="3.4" fill="#4677d4" fill-opacity="0.95"/>
<line x1="198.53" y1="342.50" x2="198.53" y2="358.50" stroke="#e0e0e5" stroke-width="1"/>
<text x="198.53" y="381.2" text-anchor="middle" font-family="'Liberation Sans', Arial, sans-serif" font-size="14.3" fill="#6b6c75">20</text>
<line x1="343.39" y1="342.50" x2="343.39" y2="358.50" stroke="#e0e0e5" stroke-width="1"/>
<text x="343.39" y="381.2" text-anchor="middle" font-family="'Liberation Sans', Arial, sans-serif" font-size="14.3" fill="#6b6c75">40</text>
<line x1="488.26" y1="342.50" x2="488.26" y2="358.50" stroke="#e0e0e5" stroke-width="1"/>
<text x="488.26" y="381.2" text-anchor="middle" font-family="'Liberation Sans', Arial, sans-serif" font-size="14.3" fill="#6b6c75">60</text>
<line x1="633.13" y1="342.50" x2="633.13" y2="358.50" stroke="#e0e0e5" stroke-width="1"/>
<text x="633.13" y="381.2" text-anchor="middle" font-family="'Liberation Sans', Arial, sans-serif" font-size="14.3" fill="#6b6c75">80</text>
<line x1="778.00" y1="342.50" x2="778.00" y2="358.50" stroke="#e0e0e5" stroke-width="1"/>
<text x="778.00" y="381.2" text-anchor="middle" font-family="'Liberation Sans', Arial, sans-serif" font-size="14.3" fill="#6b6c75">100</text>
<text x="770" y="343" text-anchor="end" font-family="'Liberation Sans', Arial, sans-serif" font-size="15" fill="#6b6c75">Step</text>
</g>
</svg></div></div>
<div style="position:absolute;left:2522px;top:1392px;width:2px;height:2px;background:#a9a9a9"></div>
</body></html>
